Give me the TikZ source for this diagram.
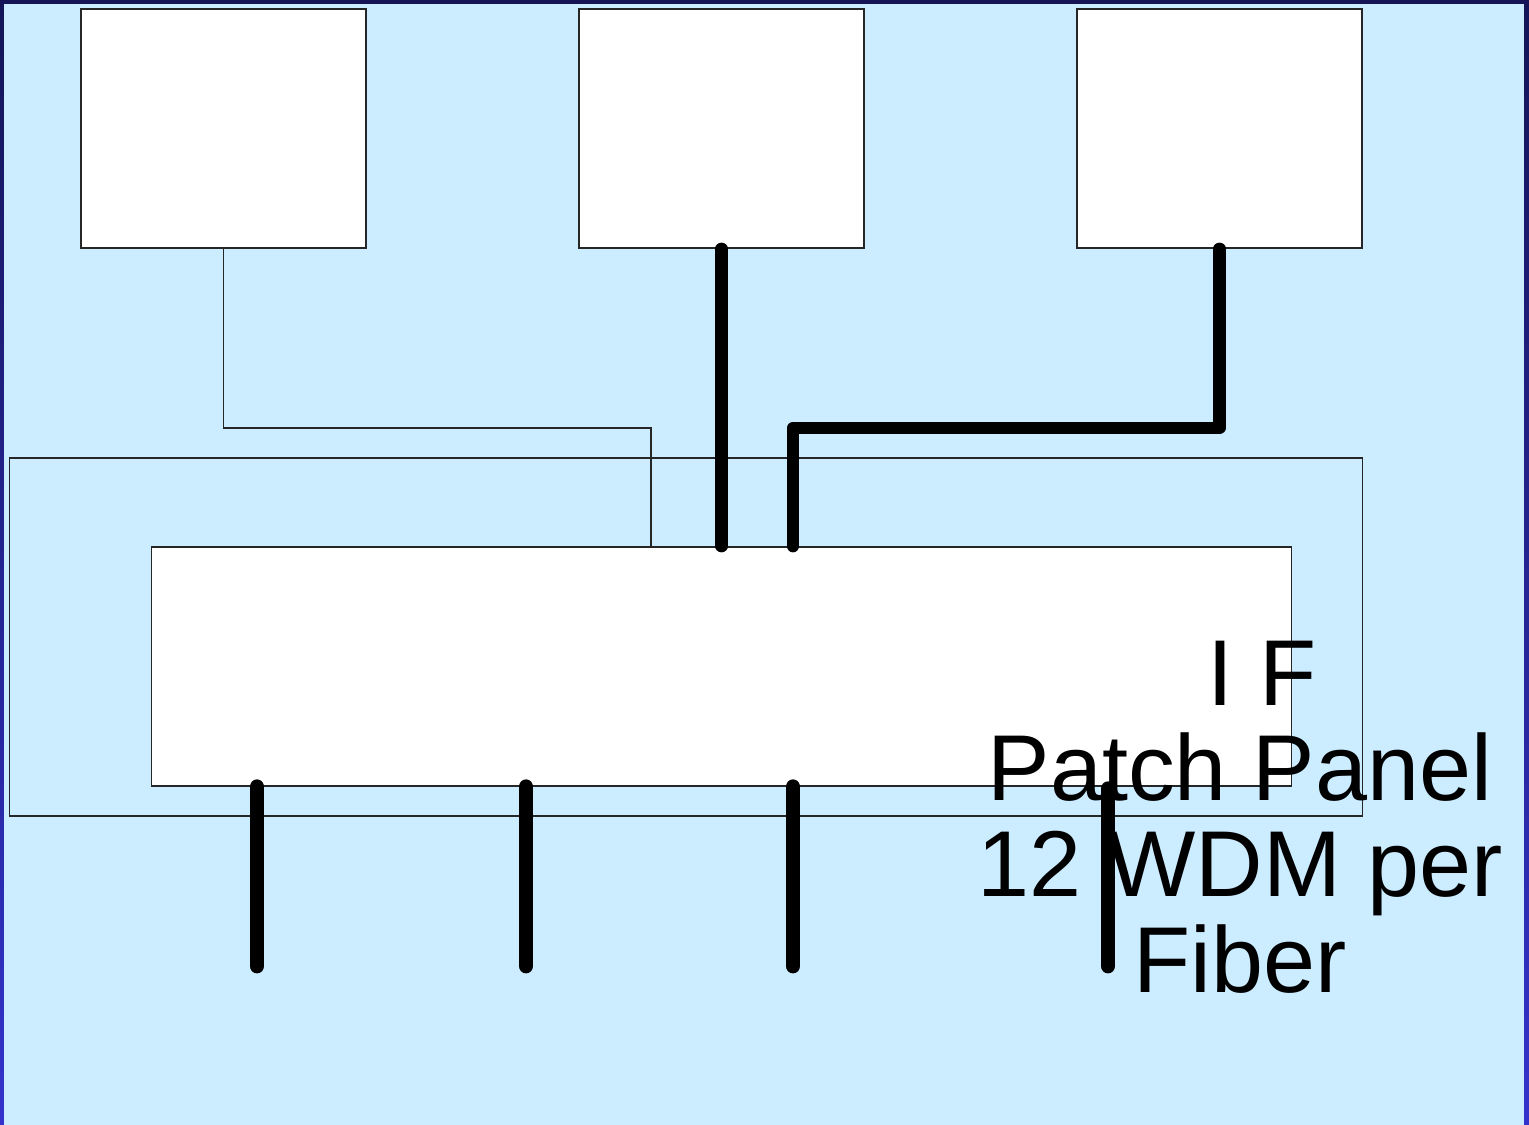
\documentclass[tikz,border=0pt]{standalone}
\usepackage{fontspec}
\setmainfont{Liberation Sans}
\usetikzlibrary{calc}

\begin{document}
\begin{tikzpicture}[x=0.01cm,y=-0.01cm]

% colors
\definecolor{frameTop}{HTML}{141457}
\definecolor{frameBottom}{HTML}{3333CC}
\definecolor{slideBlue}{HTML}{CCECFF}
\def\boxLine{black!85}
\def\fiberWidth{3.5pt}
\def\outFiberWidth{4.2pt}

% frame and background
\shade[top color=frameTop, bottom color=frameBottom] (0,0) rectangle (1529,1125);
\fill[slideBlue] (4,4) rectangle (1524,1125);
\useasboundingbox (0,0) rectangle (1529,1125);

\tikzset{
    unit/.style={draw=\boxLine, line width=0.4pt, fill=white, minimum width=2.85cm, minimum height=2.39cm, inner sep=0pt},
    fiber/.style={line width=\fiberWidth, line cap=round, line join=round},
    outfiber/.style={fiber, line width=\outFiberWidth},
    thin/.style={draw=\boxLine, line width=0.4pt},
}

% receiver units on top
\node[unit] (unitLeft) at (223.5,128.5) {};
\node[unit] (unitMid) at (721.5,128.5) {};
\node[unit] (unitRight) at (1219.5,128.5) {};

% patch panel (rack and panel)
\node[thin, fill=slideBlue, minimum width=13.52cm, minimum height=3.58cm, inner sep=0pt] (rack) at (686,637) {};
\node[thin, fill=white, minimum width=11.39cm, minimum height=2.39cm, inner sep=0pt] (panel) at (721.5,666.5) {};

% bend coordinates
\coordinate (thinBend) at (651,428);
\coordinate (thickBend) at (793,428);

% thin cable from the left unit
\draw[thin] (unitLeft.south) |- (thinBend) -- (thinBend |- panel.north);

% fibers from the other units
\draw[fiber] (unitMid.south) -- (unitMid.south |- panel.north);
\draw[fiber] (unitRight.south) |- (thickBend) -- (thickBend |- panel.north);

% label
\node[align=center, font=\fontsize{26.6}{27.2}\selectfont, inner sep=0pt] (panelLabel) at (1240,817)
    {\hspace*{0.45cm}I F\\Patch Panel\\12 WDM per\\Fiber};

% outgoing fibers
\coordinate (outA) at (257,966);
\coordinate (outB) at (526,966);
\coordinate (outC) at (793,966);
\coordinate (outD) at (1108,966);
\draw[outfiber] (outA |- panel.south) -- (outA);
\draw[outfiber] (outB |- panel.south) -- (outB);
\draw[outfiber] (outC |- panel.south) -- (outC);
\draw[outfiber] ($(outD |- panel.south)+(0,2)$) -- (outD);

\end{tikzpicture}
\end{document}
